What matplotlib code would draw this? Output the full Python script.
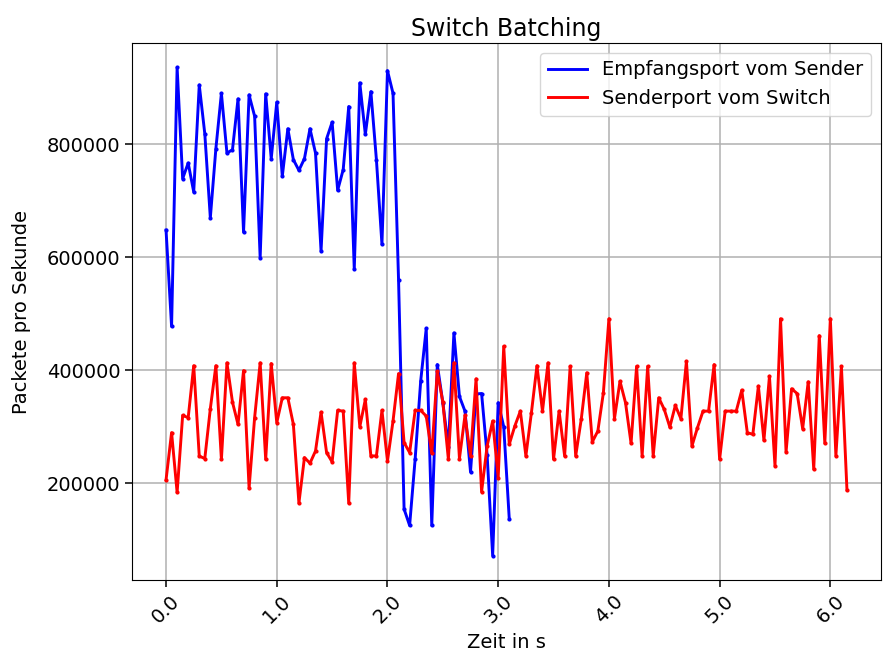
import numpy as np
import matplotlib
matplotlib.use("Agg")
import matplotlib.pyplot as plt

# Empfangsport vom Sender (blau), alle 0.05 s
sender_pps = [
    648200, 477600, 936400, 739500, 767000, 715800, 905300, 818900, 670000, 792400,
    890500, 784700, 790600, 880600, 644700, 887700, 850000, 599400, 889500, 774800,
    874600, 743500, 827700, 773000, 754100, 774800, 827700, 784700, 611200, 810000,
    839300, 718800, 755300, 867100, 578900, 908900, 817600, 893500, 773000, 623000,
    930600, 890500, 560000, 154100, 125000, 243000, 381000, 474000, 125000, 410000,
    342400, 264000, 466000, 353500, 327600, 220000, 358000, 358800, 250000, 71700,
    342400, 300000, 136500,
]

# Senderport vom Switch (rot), alle 0.05 s
switch_pps = [
    205800, 289500, 183500, 320000, 316000, 408000, 248000, 243500, 332000, 408000,
    242000, 413000, 343500, 304100, 399400, 191200, 316000, 413000, 242000, 411800,
    307100, 351200, 351200, 304100, 164700, 245300, 235300, 257000, 325800, 254200,
    237600, 328800, 327600, 164700, 413000, 300000, 348200, 248300, 248300, 328800,
    239300, 310000, 394100, 271800, 254200, 328800, 328800, 318800, 252900, 398200,
    343500, 242400, 413000, 243600, 320000, 248300, 384700, 184700, 265800, 310000,
    210000, 442300, 268800, 301100, 327600, 248300, 324800, 408000, 327600, 413000,
    242400, 327600, 248300, 406800, 248300, 313000, 395400, 273000, 292300, 360000,
    491200, 314200, 380500, 342400, 270600, 406800, 248300, 406800, 248300, 351200,
    330600, 299400, 337600, 314200, 415800, 265800, 298300, 327600, 327600, 410000,
    242400, 327600, 327600, 327600, 364700, 289500, 286500, 371800, 275900, 389400,
    230600, 491200, 255300, 367100, 358800, 296500, 379400, 224700, 461200, 270600,
    491200, 248300, 406800, 188200,
]

step = 0.05
t_sender = np.arange(len(sender_pps)) * step
t_switch = np.arange(len(switch_pps)) * step
xticks = [0, 1, 2, 3, 4, 5, 6]

fig = plt.figure(figsize=(8.83, 6.62), dpi=100)
ax = fig.add_axes([132 / 883, 82 / 662, 749 / 883, 537 / 662])

ax.plot(t_sender, sender_pps, color="blue", marker=".", markersize=4, linewidth=2.1,
        label="Empfangsport vom Sender")
ax.plot(t_switch, switch_pps, color="red", marker=".", markersize=4, linewidth=2.1,
        label="Senderport vom Switch")

ax.set_xticks(xticks)
ax.set_xticklabels([f"{x:.1f}" for x in xticks], rotation=45)
ax.set_yticks([200000, 400000, 600000, 800000])
ax.tick_params(labelsize=14, length=5, width=1.1)
ax.grid(True, linewidth=1.1)

ax.set_title("Switch Batching", fontsize=17, pad=5)
ax.set_xlabel("Zeit in s", fontsize=14)
ax.set_ylabel("Packete pro Sekunde", fontsize=14, labelpad=11)
leg = ax.legend(loc="upper right", fontsize=14)
for h in leg.get_lines():
    h.set_marker("")

fig.savefig("out.png", dpi=100)
